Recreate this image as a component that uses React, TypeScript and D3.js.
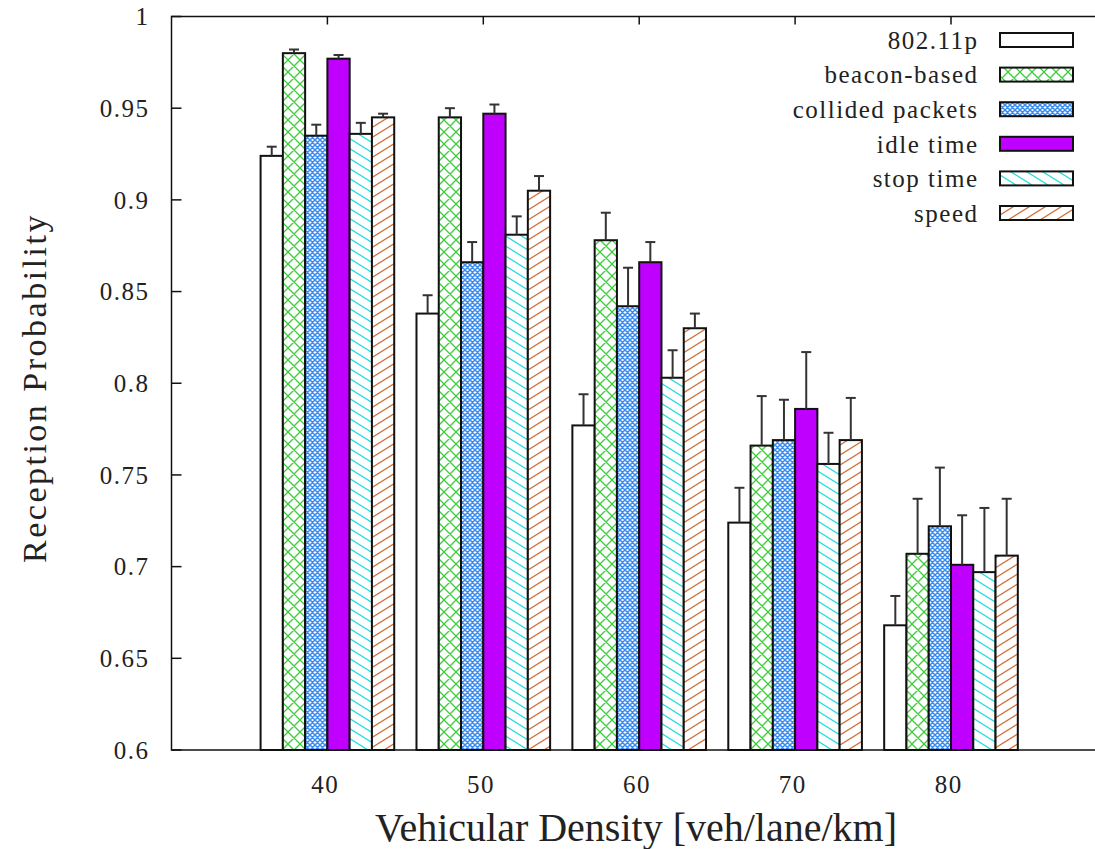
import React from 'react';
import * as d3 from 'd3';

// vehicular density groups
const categories = ['40', '50', '60', '70', '80'];
const seriesNames = ['802.11p', 'beacon-based', 'collided packets', 'idle time', 'stop time', 'speed'];

// reception probability per series
const p80211p = [0.924, 0.838, 0.777, 0.724, 0.668];
const beaconBased = [0.980, 0.945, 0.878, 0.766, 0.707];
const collidedPackets = [0.935, 0.866, 0.842, 0.769, 0.722];
const idleTime = [0.977, 0.947, 0.866, 0.786, 0.701];
const stopTime = [0.936, 0.881, 0.803, 0.756, 0.697];
const speed = [0.945, 0.905, 0.830, 0.769, 0.706];

// upper error bar lengths
const errP80211p = [0.005, 0.010, 0.017, 0.019, 0.016];
const errBeacon = [0.002, 0.005, 0.015, 0.027, 0.030];
const errCollided = [0.006, 0.011, 0.021, 0.022, 0.032];
const errIdle = [0.002, 0.005, 0.011, 0.031, 0.027];
const errStop = [0.006, 0.010, 0.015, 0.017, 0.035];
const errSpeed = [0.002, 0.008, 0.008, 0.023, 0.031];

const yTicks = [0.6, 0.65, 0.7, 0.75, 0.8, 0.85, 0.9, 0.95, 1];

const values = [p80211p, beaconBased, collidedPackets, idleTime, stopTime, speed];
const errors = [errP80211p, errBeacon, errCollided, errIdle, errStop, errSpeed];
const fills = ['#ffffff', 'url(#pBeacon)', 'url(#pCollided)', '#bf00ff', 'url(#pStop)', 'url(#pSpeed)'];

const W = 1095;
const H = 849;
const font = '"Liberation Serif", "DejaVu Serif", serif';
const fs = 25;
const ls = 1.5; // gnuplot's text looks loosely spaced

// diagonal hatch lines for a w x h tile, extended so the corners are covered
function hatch(dir: 'back' | 'fwd', w: number, h: number) {
  let d = '';
  for (const k of [-1, 0, 1]) {
    if (dir === 'back') d += `M${k * w - w},${-h}L${k * w + 2 * w},${2 * h}`;
    else d += `M${k * w - w},${2 * h}L${k * w + 2 * w},${-h}`;
  }
  return d;
}

export default function App() {
  const x = d3.scaleLinear().domain([-1, 5]).range([171.5, 1106.9]);
  const y = d3.scaleLinear().domain([0.6, 1]).range([750, 16.5]);
  const step = x(1) - x(0);
  const bw = step / 7;
  const left = x(-1);

  const barX = (i: number, j: number) => x(i) + (j - 3) * bw;

  return (
    <svg width={W} height={H} style={{ position: 'absolute', left: 0, top: 0, background: '#fff' }}>
      <defs>
        <pattern id="pBeacon" patternUnits="userSpaceOnUse" width={12} height={12}>
          <rect width={12} height={12} fill="#fff" />
          <path d={hatch('back', 12, 12) + hatch('fwd', 12, 12)} stroke="#3ccc3c" strokeWidth={1.3} fill="none" />
        </pattern>
        <pattern id="pCollided" patternUnits="userSpaceOnUse" width={5} height={5}>
          <rect width={5} height={5} fill="#fff" />
          <path d={hatch('back', 5, 5) + hatch('fwd', 5, 5)} stroke="#3a8cf0" strokeWidth={1.5} fill="none" />
        </pattern>
        <pattern id="pStop" patternUnits="userSpaceOnUse" width={16} height={10}>
          <rect width={16} height={10} fill="#fff" />
          <path d={hatch('back', 16, 10)} stroke="#22dde0" strokeWidth={1.3} fill="none" />
        </pattern>
        <pattern id="pSpeed" patternUnits="userSpaceOnUse" width={16} height={10}>
          <rect width={16} height={10} fill="#fff" />
          <path d={hatch('fwd', 16, 10)} stroke="#d2703a" strokeWidth={1.3} fill="none" />
        </pattern>
      </defs>

      {/* y ticks and labels */}
      {yTicks.map((t) => (
        <g key={t}>
          <line x1={left} x2={left + 10} y1={y(t)} y2={y(t)} stroke="#111" strokeWidth={1.5} />
          <text x={148 + ls} y={y(t)} dy="0.35em" textAnchor="end" fontFamily={font} fontSize={fs} letterSpacing={ls} fill="#222">
            {d3.format('')(t)}
          </text>
        </g>
      ))}

      {/* x ticks (top and bottom) and labels */}
      {categories.map((c, i) => (
        <g key={c}>
          <line x1={x(i)} x2={x(i)} y1={y(1)} y2={y(1) + 8} stroke="#111" strokeWidth={1.5} />
          <line x1={x(i)} x2={x(i)} y1={y(0.6)} y2={y(0.6) - 8} stroke="#111" strokeWidth={1.5} />
          <text x={x(i) - 3 + ls / 2} y={784} dy="0.35em" textAnchor="middle" fontFamily={font} fontSize={fs} letterSpacing={ls} fill="#222">
            {c}
          </text>
        </g>
      ))}

      {/* bars */}
      {values.map((vals, j) => (
        <g key={seriesNames[j]}>
          {vals.map((v, i) => (
            <rect
              key={i}
              x={barX(i, j)}
              y={y(v)}
              width={bw}
              height={y(0.6) - y(v)}
              fill={fills[j]}
              stroke="#111"
              strokeWidth={2}
            />
          ))}
        </g>
      ))}

      {/* error bars */}
      {values.map((vals, j) => (
        <g key={'e' + j} stroke="#333" strokeWidth={2}>
          {vals.map((v, i) => {
            const cx = barX(i, j) + bw / 2;
            const top = y(v + errors[j][i]);
            return (
              <g key={i}>
                <line x1={cx} x2={cx} y1={y(v)} y2={top} />
                <line x1={cx - 5} x2={cx + 5} y1={top} y2={top} />
              </g>
            );
          })}
        </g>
      ))}

      {/* border */}
      <path
        d={`M${W},${y(1)}H${left}V${y(0.6)}H${W}`}
        fill="none"
        stroke="#111"
        strokeWidth={1.5}
      />

      {/* legend */}
      {seriesNames.map((s, j) => {
        const ly = 40 + j * 34.6;
        return (
          <g key={s}>
            <text x={977 + ls} y={ly} dy="0.35em" textAnchor="end" fontFamily={font} fontSize={fs} letterSpacing={ls} fill="#222">
              {s}
            </text>
            <rect x={1000} y={ly - 7} width={73} height={14} fill={fills[j]} stroke="#111" strokeWidth={2} />
          </g>
        );
      })}

      {/* axis titles */}
      <text x={636} y={841} textAnchor="middle" fontFamily={font} fontSize={40} fill="#222">
        Vehicular Density [veh/lane/km]
      </text>
      <text
        transform={`translate(46,388) rotate(-90)`}
        textAnchor="middle"
        fontFamily={font}
        fontSize={34}
        letterSpacing={2.5}
        fill="#222"
      >
        Reception Probability
      </text>
    </svg>
  );
}
